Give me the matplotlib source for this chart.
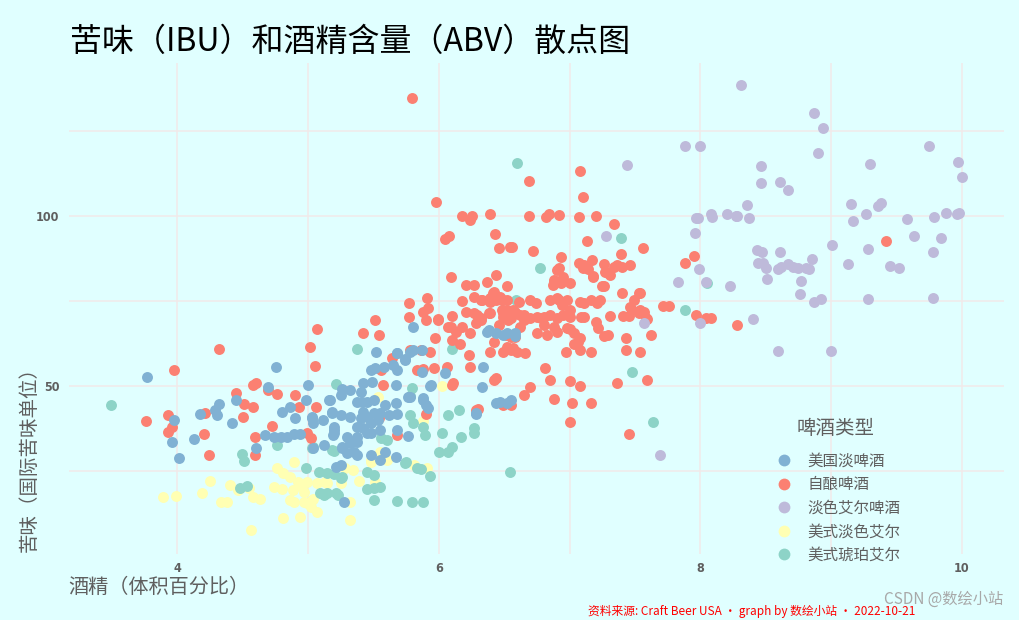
import numpy as np
import matplotlib
matplotlib.use("Agg")
import matplotlib.pyplot as plt
from matplotlib.lines import Line2D

plt.rcParams['font.family'] = ['Noto Sans CJK SC', 'DejaVu Sans']

# ABV (%), IBU for each beer style
american_lager = [
    (3.77, 52.7), (3.97, 40), (3.96, 33.5), (4.01, 28.8), (4.13, 34.5), (4.17, 41.7),
    (4.29, 42.9), (4.32, 44.7), (4.30, 41.5), (4.45, 45.9), (4.42, 39), (4.69, 49.6),
    (4.75, 55.7), (4.98, 45.9), (5.00, 50.3), (4.60, 31.7), (4.67, 35.5), (4.74, 35),
    (4.79, 35), (4.84, 35), (4.89, 35.9), (4.94, 35.9), (4.80, 42.4), (4.86, 43.7),
    (4.90, 40.5), (5.03, 40.5), (5.04, 39), (5.11, 40), (5.16, 45.9), (5.18, 42.4),
    (5.20, 37.1), (5.19, 35.6), (5.12, 32.6), (5.04, 31.7), (5.26, 49), (5.25, 47.4),
    (5.32, 48.8), (5.40, 48.3), (5.42, 50.8), (5.49, 51.3), (5.37, 45.4), (5.45, 45.4),
    (5.50, 45.9), (5.42, 42.4), (5.50, 42), (5.48, 54.7), (5.51, 55.2), (5.58, 55.7),
    (5.65, 56.2), (5.68, 59.6), (5.74, 57.6), (5.52, 60.1), (5.80, 67.4), (5.67, 50.3),
    (5.67, 44.9), (5.76, 46.9), (5.32, 41), (5.40, 40.5), (5.42, 37.6), (5.45, 36.1),
    (5.37, 35.1), (5.30, 35.1), (5.26, 31.7), (5.30, 30.2), (5.37, 29.7), (5.48, 29.7),
    (5.59, 30.7), (5.67, 29.2), (5.76, 35.3), (5.27, 16), (5.18, 42), (5.25, 41.5),
    (5.20, 36.1), (5.20, 38), (5.26, 32.2), (5.32, 33.1), (5.37, 33.6), (5.35, 30.7),
    (5.55, 28.2), (5.45, 41), (5.53, 40), (5.48, 39), (5.55, 37.1), (5.48, 36.1),
    (5.37, 38), (5.21, 26.3), (5.25, 26.8), (5.68, 41.8), (5.68, 37.1), (6.28, 41.8),
    (6.44, 44.9), (6.52, 44.9), (6.37, 66), (6.44, 65.7), (6.52, 65.5), (6.58, 65.5),
    (5.68, 59.8), (5.74, 57.8), (5.78, 60.1), (5.80, 60.6), (5.87, 60.6), (5.68, 54.7),
    (5.87, 54.2), (6.05, 53.7), (6.34, 55.7), (5.93, 50), (6.33, 49.8), (5.78, 46.9),
    (5.88, 46.4), (6.47, 45.4), (6.55, 45.9), (5.94, 50.3), (5.88, 45.9), (5.90, 44.4),
    (5.92, 43.4), (6.28, 42.1), (5.17, 45.9), (5.41, 45.4), (5.59, 44.4), (5.03, 41),
    (5.55, 42), (5.62, 41.5), (6.38, 66.5), (6.49, 65), (6.58, 64.7),
]

homebrew = [
    (3.97, 54.6), (4.32, 60.9), (3.76, 39.7), (3.93, 41.5), (3.96, 37.9), (3.93, 36.6),
    (4.20, 35.9), (4.24, 29.8), (4.21, 42), (4.45, 47.8), (4.51, 44.7), (4.58, 43.9),
    (4.50, 40.8), (4.58, 50.3), (4.60, 50.8), (4.69, 48.8), (4.76, 47.6), (4.90, 47.4),
    (4.93, 43.9), (5.06, 43.7), (5.05, 55.9), (5.01, 61.6), (5.07, 66.7), (4.72, 38.2),
    (4.59, 35.1), (4.59, 29.7), (4.99, 36.1), (5.02, 34.6), (5.51, 69.4), (5.42, 65.7),
    (5.54, 64.9), (5.64, 58.1), (5.77, 74.5), (5.77, 70.4), (5.56, 54.7), (5.57, 50.3),
    (5.54, 40.5), (5.68, 35.6), (6.09, 82), (6.21, 79.7), (6.27, 79.7), (6.37, 80.7),
    (6.44, 82.6), (6.52, 79.4), (5.91, 75.8), (5.92, 72.9), (5.90, 69.4), (5.99, 69.6),
    (5.88, 71.9), (6.18, 75.1), (6.10, 70.6), (6.21, 71.9), (6.29, 70.9), (6.32, 69.4),
    (6.28, 68.4), (6.24, 65.5), (6.32, 75.3), (6.39, 74.8), (6.42, 77.7), (6.47, 76.3),
    (6.52, 75.3), (6.49, 71.4), (6.53, 69.4), (6.57, 72.4), (6.38, 71.6), (6.07, 67.4),
    (6.13, 66), (6.10, 63.5), (6.16, 62.5), (6.18, 67.4), (5.97, 64), (5.93, 60.1),
    (5.86, 60.6), (5.78, 60.6), (5.83, 54.7), (5.88, 54.9), (5.96, 55.2), (6.06, 55.7),
    (6.24, 55.7), (6.11, 50.8), (6.23, 59.1), (6.39, 60.1), (6.49, 60.1), (6.57, 61.1),
    (6.55, 64.5), (6.42, 63), (6.44, 52.3), (6.42, 51.8), (6.10, 50.3), (5.90, 41.8),
    (6.28, 42.9), (6.30, 43.1), (6.49, 44.4), (6.55, 44.4), (6.09, 67.3), (6.70, 75.3),
    (6.74, 74.3), (6.85, 75.3), (6.92, 75.3), (6.98, 75.3), (7.08, 74.8), (7.16, 75.3),
    (7.23, 75.3), (7.26, 79.4), (7.18, 82.1), (7.11, 85.6), (7.17, 87.1), (7.26, 85.9),
    (7.34, 85.1), (7.39, 88.8), (7.46, 85.6), (7.29, 83.1), (7.36, 85.6), (7.40, 77.3),
    (7.49, 75.3), (7.54, 77.3), (7.53, 71.4), (7.57, 71.9), (7.59, 69.7), (7.45, 70.7),
    (7.41, 70.6), (7.31, 70.7), (7.20, 68.9), (7.11, 70.4), (7.00, 70.4), (6.95, 70.9),
    (6.90, 69.9), (6.85, 70.9), (6.80, 70.4), (6.75, 70.4), (6.70, 69.9), (6.65, 69.4),
    (6.55, 69.9), (6.49, 70.4), (6.58, 71.9), (6.52, 72.4), (7.08, 64), (7.03, 62.5),
    (6.97, 60.1), (7.08, 60.6), (7.16, 60.1), (7.26, 64.7), (7.29, 65), (7.43, 64),
    (7.43, 60.6), (7.54, 60.1), (7.62, 65), (7.71, 73.5), (7.76, 73.5), (7.88, 86.3),
    (7.95, 88.2), (7.97, 70.9), (6.93, 88), (6.92, 84.6), (6.88, 80.7), (6.93, 80.2),
    (7.00, 80.2), (6.90, 75.8), (6.94, 73.8), (7.11, 74.3), (6.81, 55.2), (6.85, 51.8),
    (6.88, 46.1), (7.00, 51.5), (7.02, 44.9), (7.08, 50), (7.16, 45.1), (7.00, 39.5),
    (6.70, 49.8), (6.65, 47.4), (7.36, 50.8), (7.45, 35.9), (7.59, 51.8), (6.75, 65.5),
    (6.83, 65), (6.90, 66), (6.98, 67), (7.03, 65.5), (6.46, 68), (6.51, 65),
    (6.58, 64.5), (6.55, 60.6), (6.60, 60.1), (6.66, 59.6), (6.52, 61.6), (5.79, 134.6),
    (5.98, 104), (6.69, 110.3), (7.08, 113.3), (7.10, 105.5), (6.18, 100), (6.24, 98.8),
    (6.25, 100), (6.39, 100.6), (6.69, 100), (6.82, 99.6), (6.84, 100.6), (6.92, 100.4),
    (7.07, 99.6), (7.20, 100), (7.34, 97.6), (6.05, 93.1), (6.08, 94.1), (6.43, 94.7),
    (6.46, 90.5), (6.54, 90.8), (6.56, 90.8), (6.72, 89.8), (7.13, 92.6), (7.56, 90.5),
    (7.07, 86.1), (7.40, 84.9), (6.90, 84.1), (6.95, 82.1), (6.88, 81.2), (6.87, 79.7),
    (7.31, 82.6), (7.25, 79.4), (7.53, 77.4), (7.46, 73.3), (7.58, 69.9), (6.27, 76.3),
    (6.33, 75.3), (6.39, 75.8), (6.41, 77.4), (6.44, 75.3), (6.48, 75.3), (6.27, 71.4),
    (6.32, 69.9), (6.39, 71.4), (6.48, 72.4), (6.52, 71.4), (6.65, 70.9), (6.61, 74.8),
    (6.49, 75.3), (7.21, 74.3), (7.22, 67), (7.06, 63), (8.04, 69.9), (8.08, 69.9),
    (8.28, 68), (9.42, 92.6), (7.48, 72.4), (7.54, 72.4), (6.62, 70.9), (6.78, 69.9),
    (7.00, 72.4), (7.09, 70.4), (6.88, 67.4), (6.80, 67.9), (6.62, 67.4), (7.00, 66.9),
    (7.10, 84.6), (7.14, 84.4), (7.18, 82.4), (7.27, 83.6), (5.99, 69.4),
]

pale_ale = [
    (8.31, 138.5), (8.87, 130.2), (8.94, 126), (8.90, 118.6), (7.88, 120.7), (8.00, 120.5),
    (7.44, 115), (8.46, 114.7), (8.46, 109.8), (8.61, 110.1), (8.67, 107.6), (9.30, 115.2),
    (9.75, 120.6), (9.97, 115.8), (10.0, 111.6), (8.36, 103.3), (7.98, 99.5), (8.08, 100.6),
    (8.09, 99.6), (8.20, 100.5), (8.27, 100), (8.28, 100), (8.37, 99.5), (7.96, 94.9),
    (9.15, 103.4), (9.17, 98.6), (9.27, 100.5), (9.36, 102.9), (9.38, 103.9), (9.58, 99.1),
    (9.79, 99.6), (9.88, 100.8), (9.96, 100.6), (9.98, 100.8), (9.63, 94.1), (9.84, 93.5),
    (9.78, 89.5), (9.45, 85.4), (9.52, 84.6), (9.28, 90.2), (9.01, 91.5), (9.13, 85.8),
    (8.43, 90), (8.47, 89.5), (8.61, 89.5), (8.44, 86.1), (8.48, 86.3), (8.50, 84.6),
    (8.51, 81.4), (8.59, 84.4), (8.62, 84.9), (8.67, 85.8), (8.71, 84.9), (8.75, 84.6),
    (8.81, 84.6), (8.83, 84.3), (8.85, 87.4), (8.77, 80.9), (8.76, 77), (8.87, 74.8),
    (8.92, 75.5), (9.28, 75.7), (9.78, 75.8), (8.59, 60.4), (9.00, 60.4), (8.40, 69.7),
    (8.23, 79.5), (7.99, 84.3), (8.04, 80.7), (7.83, 80.5), (7.28, 94), (7.57, 68.6),
    (8.00, 68.6), (7.97, 99.3), (7.69, 29.7),
]

american_pale_ale = [
    (3.89, 17.3), (3.99, 17.7), (4.19, 18.6), (4.25, 22.2), (4.33, 16), (4.38, 16),
    (4.40, 20.9), (4.46, 19.4), (4.55, 19.9), (4.58, 17.5), (4.63, 16.7), (4.56, 7.6),
    (4.76, 25.8), (4.89, 27.7), (4.81, 24.3), (4.86, 23.3), (4.92, 21.9), (4.74, 20.4),
    (4.80, 19.6), (4.88, 19.4), (4.94, 20.9), (4.99, 21.9), (4.97, 18.9), (4.89, 16),
    (4.97, 16), (5.03, 16.5), (5.02, 14.5), (5.07, 13.0), (4.94, 11.6), (4.81, 11.1),
    (5.07, 21.4), (5.13, 21.9), (5.28, 25.8), (5.34, 25.3), (5.39, 22.1), (5.32, 10.6),
    (5.48, 28.2), (5.55, 30.7), (5.51, 21.9), (5.32, 15.8), (5.53, 46.9), (5.48, 27.7),
    (5.60, 28.2), (6.02, 50.1), (5.88, 39.8), (5.81, 26.8), (5.91, 26), (4.86, 16.5),
    (5.04, 16.7), (4.99, 15.5), (5.14, 21.4), (5.25, 21.4),
]

amber_ale = [
    (3.49, 44.5), (4.76, 32.6), (4.49, 30), (4.51, 28), (5.04, 32.2), (5.20, 31),
    (5.79, 49.3), (5.78, 47.1), (5.56, 34.6), (5.60, 34.1), (5.74, 27.5), (5.83, 25.8),
    (5.45, 24.8), (5.50, 23.8), (5.45, 19.6), (5.50, 19.9), (5.55, 20.4), (5.50, 16.5),
    (5.68, 16.2), (5.79, 15.8), (4.48, 19.9), (4.53, 20.6), (4.98, 25.8), (5.08, 24.8),
    (5.14, 24.3), (5.20, 24.1), (5.26, 23.1), (5.09, 18.5), (5.14, 18.6), (5.21, 18.5),
    (5.23, 17.9), (5.21, 50.5), (5.37, 60.8), (5.03, 31.7), (5.18, 31.2), (5.25, 22.9),
    (5.12, 17.9), (6.10, 60.9), (5.78, 41.5), (5.80, 39.2), (5.88, 38), (5.89, 35.6),
    (6.02, 36.1), (6.07, 41.5), (6.15, 42.9), (6.17, 34.9), (6.10, 32.2), (6.07, 30.7),
    (6.00, 30.7), (6.27, 37.6), (6.27, 36.1), (5.75, 27.7), (5.86, 25.6), (5.93, 23.5),
    (5.88, 16), (6.54, 24.8), (6.60, 115.5), (7.39, 93.4), (6.77, 84.6), (7.88, 72.4),
    (6.59, 75.3), (8.05, 80.2), (7.48, 54.2), (7.64, 39.5),
]

styles = ['美国淡啤酒', '自酿啤酒', '淡色艾尔啤酒', '美式淡色艾尔', '美式琥珀艾尔']
colors = ['#80B1D3', '#FB8072', '#BEBADA', '#FFFFB3', '#8DD3C7']
series = [american_lager, homebrew, pale_ale, american_pale_ale, amber_ale]

bg = '#E0FFFF'
grid_c = '#F2EAEA'
text_c = '#5F5F5F'

fig = plt.figure(figsize=(10.19, 6.2), dpi=100, facecolor=bg)
ax = fig.add_axes([0.0677, 0.1065, 0.9173, 0.7919])
ax.set_facecolor(bg)

# draw order: pale colours first so the darker ones sit on top
for i in [3, 4, 1, 0, 2]:
    pts = np.array(series[i])
    ax.scatter(pts[:, 0], pts[:, 1], s=62, color=colors[i], linewidths=0, zorder=3)

ax.set_xlim(3.17, 10.32)
ax.set_ylim(0.6, 145)
ax.set_xticks([4, 6, 8, 10])
ax.set_xticks([5, 7, 9], minor=True)
ax.set_yticks([50, 100])
ax.set_yticks([25, 75, 125], minor=True)
ax.grid(True, which='both', color=grid_c, linewidth=1.1, zorder=0)
for s in ax.spines.values():
    s.set_visible(False)
ax.tick_params(which='both', length=0)
ax.tick_params(axis='x', pad=6)
ax.tick_params(axis='y', pad=7)
for lab in ax.get_xticklabels() + ax.get_yticklabels():
    lab.set_fontfamily('DejaVu Sans')
    lab.set_fontweight('bold')
    lab.set_fontstretch('condensed')
    lab.set_fontsize(9)
    lab.set_color(text_c)

fig.text(0.069, 0.932, '苦味（IBU）和酒精含量（ABV）散点图', fontsize=23,
         color='black', ha='left', va='center')
fig.text(0.067, 1 - 587 / 620, '酒精（体积百分比）', fontsize=14.5, color=text_c,
         ha='left', va='center')
fig.text(0.029, 1 - 552 / 620, '苦味（国际苦味单位）', fontsize=14, color=text_c,
         ha='center', va='bottom', rotation=90)

handles = [Line2D([], [], marker='o', linestyle='', markersize=8.5,
                  markerfacecolor=c, markeredgewidth=0) for c in colors]
leg = ax.legend(handles, styles, loc='upper left',
                bbox_to_anchor=(0.762, 0.270), bbox_transform=fig.transFigure,
                frameon=False, fontsize=11.2, handlelength=1.0,
                handletextpad=1.0, labelspacing=0.42, borderaxespad=0,
                borderpad=0)
for t in leg.get_texts():
    t.set_color(text_c)
fig.text(797 / 1019, 1 - 428 / 620, '啤酒类型', fontsize=14, color=text_c,
         ha='left', va='center')

fig.text(0.898, 0.003, '资料来源: Craft Beer USA · graph by 数绘小站 · 2022-10-21',
         fontsize=8.5, color='red', ha='right', va='bottom')
fig.text(0.985, 1 - 599 / 620, 'CSDN @数绘小站', fontsize=11, color='#A8A8A8',
         ha='right', va='center')

fig.savefig('out.png', dpi=100, facecolor=bg)
